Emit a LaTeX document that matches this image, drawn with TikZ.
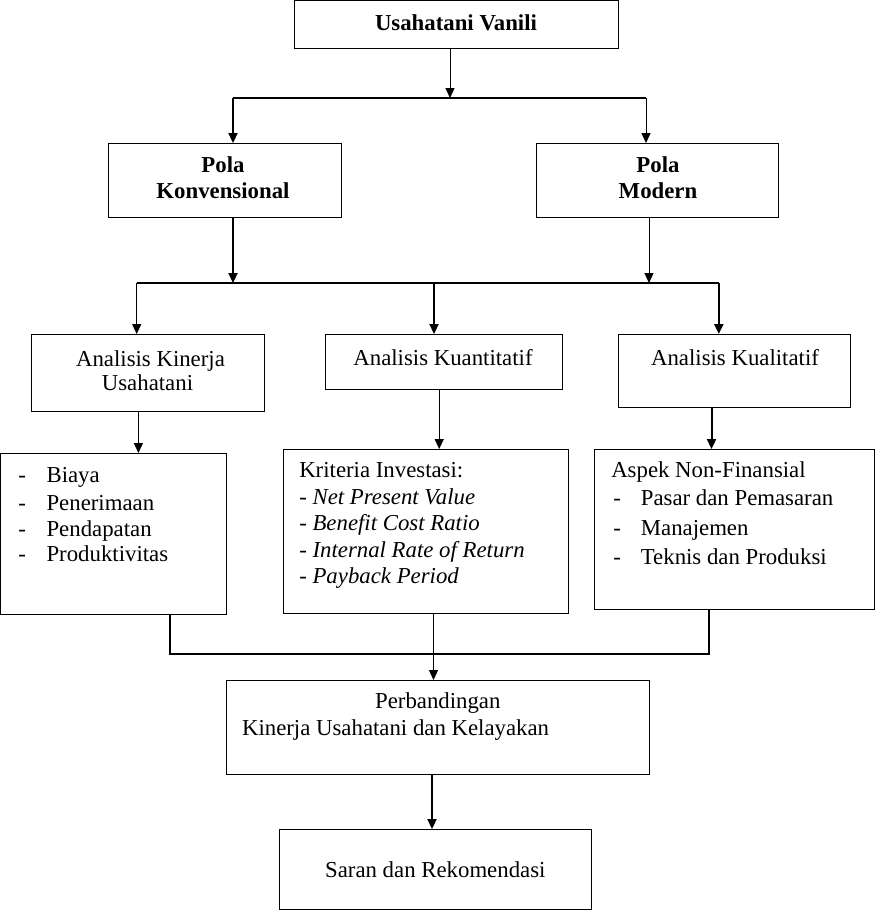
\documentclass[tikz,border=0pt]{standalone}
\usepackage{fontspec}
\setmainfont{Liberation Serif}
\usetikzlibrary{arrows.meta}
\newcommand\mkbox[5]{\node[box,anchor=north west,minimum width={(#4-#2)*0.75pt},minimum height={(#5-#3)*0.75pt}] (#1) at (#2,#3) {};}
\begin{document}
\begin{tikzpicture}[x=0.75pt,y=-0.75pt,
  box/.style={draw,line width=0.75pt,inner sep=0pt,outer sep=0pt},
  txt/.style={inner sep=0pt,font=\fontsize{17.1}{20}\selectfont},
  ctr/.style={txt,anchor=base},
  lft/.style={txt,anchor=base west},
  bld/.style={font=\fontsize{17.1}{20}\selectfont\bfseries},
  tip/.style={-{Triangle[length=7.5pt,width=6.8pt]}},
  thinl/.style={line width=0.75pt},
  thickl/.style={line width=1.5pt}]
\useasboundingbox (0,0) rectangle (875,910);
% boxes
\mkbox{top}{294}{0.5}{618}{48}
\mkbox{pk}{108}{143}{341}{217}
\mkbox{pm}{536}{143}{778}{217}
\mkbox{ak}{31}{334}{264}{411}
\mkbox{aq}{325}{334}{562}{389}
\mkbox{al}{618}{334}{850}{407}
\mkbox{bl}{0.5}{453}{226}{614}
\mkbox{bm}{283.5}{449}{568}{613}
\mkbox{br}{594}{449}{874.5}{609}
\mkbox{pb}{226}{680}{649}{774}
\mkbox{sr}{279}{829}{591}{909}
% texts
\node[ctr,bld] (t1) at (456,30) {Usahatani Vanili};
\node[ctr,bld] (t2a) at (223,172.5) {Pola};
\node[ctr,bld] (t2b) at (223,198) {Konvensional};
\node[ctr,bld] (t3a) at (658,172.5) {Pola};
\node[ctr,bld] (t3b) at (658,198) {Modern};
\node[ctr] (t4a) at (150.5,366) {Analisis Kinerja};
\node[ctr] (t4b) at (147.5,390.5) {Usahatani};
\node[ctr] (t5) at (443,365.3) {Analisis Kuantitatif};
\node[ctr] (t6) at (735,365.3) {Analisis Kualitatif};
% left list
\node[lft] (d1) at (18,482.3) {-};
\node[lft] (l1) at (46.3,482.3) {Biaya};
\node[lft] (d2) at (18,510) {-};
\node[lft] (l2) at (46.3,510) {Penerimaan};
\node[lft] (d3) at (18,536) {-};
\node[lft] (l3) at (46.3,536) {Pendapatan};
\node[lft] (d4) at (18,561.7) {-};
\node[lft] (l4) at (46.3,561.7) {Produktivitas};
% middle list
\node[lft] (m0) at (299,477.7) {Kriteria Investasi:};
\node[lft] (m1) at (299,504.3) {- \textit{Net Present Value}};
\node[lft] (m2) at (299,530.7) {- \textit{Benefit Cost Ratio}};
\node[lft] (m3) at (299,557) {- \textit{Internal Rate of Return}};
\node[lft] (m4) at (299,583) {- \textit{Payback Period}};
% right list
\node[lft] (r0) at (611,477.3) {Aspek Non-Finansial};
\node[lft] (e1) at (613,505) {-};
\node[lft] (r1) at (640.6,505) {Pasar dan Pemasaran};
\node[lft] (e2) at (613,535) {-};
\node[lft] (r2) at (640.6,535) {Manajemen};
\node[lft] (e3) at (613,564) {-};
\node[lft] (r3) at (640.6,564) {Teknis dan Produksi};
% lower boxes
\node[ctr] (p1) at (437.8,708.5) {Perbandingan};
\node[lft] (p2) at (241.8,735) {Kinerja Usahatani dan Kelayakan};
\node[ctr] (s1) at (435.3,877.5) {Saran dan Rekomendasi};
% connector coordinates
\coordinate (j1) at (450,98);
\coordinate (h1l) at (233,98);
\coordinate (h1r) at (646,98);
\coordinate (j2a) at (233,283);
\coordinate (j2b) at (649,283);
\coordinate (h2l) at (136.7,283);
\coordinate (h2m) at (434,283);
\coordinate (h2r) at (718.8,283);
\coordinate (a1) at (138.4,0);
\coordinate (a2) at (439.2,0);
\coordinate (a3) at (711.5,0);
\coordinate (h3l) at (170,654.3);
\coordinate (h3r) at (708.7,654.3);
\coordinate (a4) at (433.5,0);
\coordinate (a5) at (432,0);
% connectors
\draw[thinl,tip] (top.south -| j1) -- (j1);
\draw[thickl] (h1l) -- (h1r);
\draw[thickl,tip] (h1l) -- (h1l |- pk.north);
\draw[thinl,tip] (h1r) -- (h1r |- pm.north);
\draw[thickl,tip] (pk.south -| j2a) -- (j2a);
\draw[thinl,tip] (pm.south -| j2b) -- (j2b);
\draw[thickl] (h2l) -- (h2r);
\draw[thinl,tip] (h2l) -- (h2l |- ak.north);
\draw[thickl,tip] (h2m) -- (h2m |- aq.north);
\draw[thickl,tip] (h2r) -- (h2r |- al.north);
\draw[thinl,tip] (ak.south -| a1) -- (bl.north -| a1);
\draw[thinl,tip] (aq.south -| a2) -- (bm.north -| a2);
\draw[thickl,tip] (al.south -| a3) -- (br.north -| a3);
\draw[thickl] (bl.south -| h3l) -- (h3l) -- (h3r) -- (br.south -| h3r);
\draw[thinl,tip] (bm.south -| a4) -- (pb.north -| a4);
\draw[thickl,tip] (pb.south -| a5) -- (sr.north -| a5);
\end{tikzpicture}
\end{document}
